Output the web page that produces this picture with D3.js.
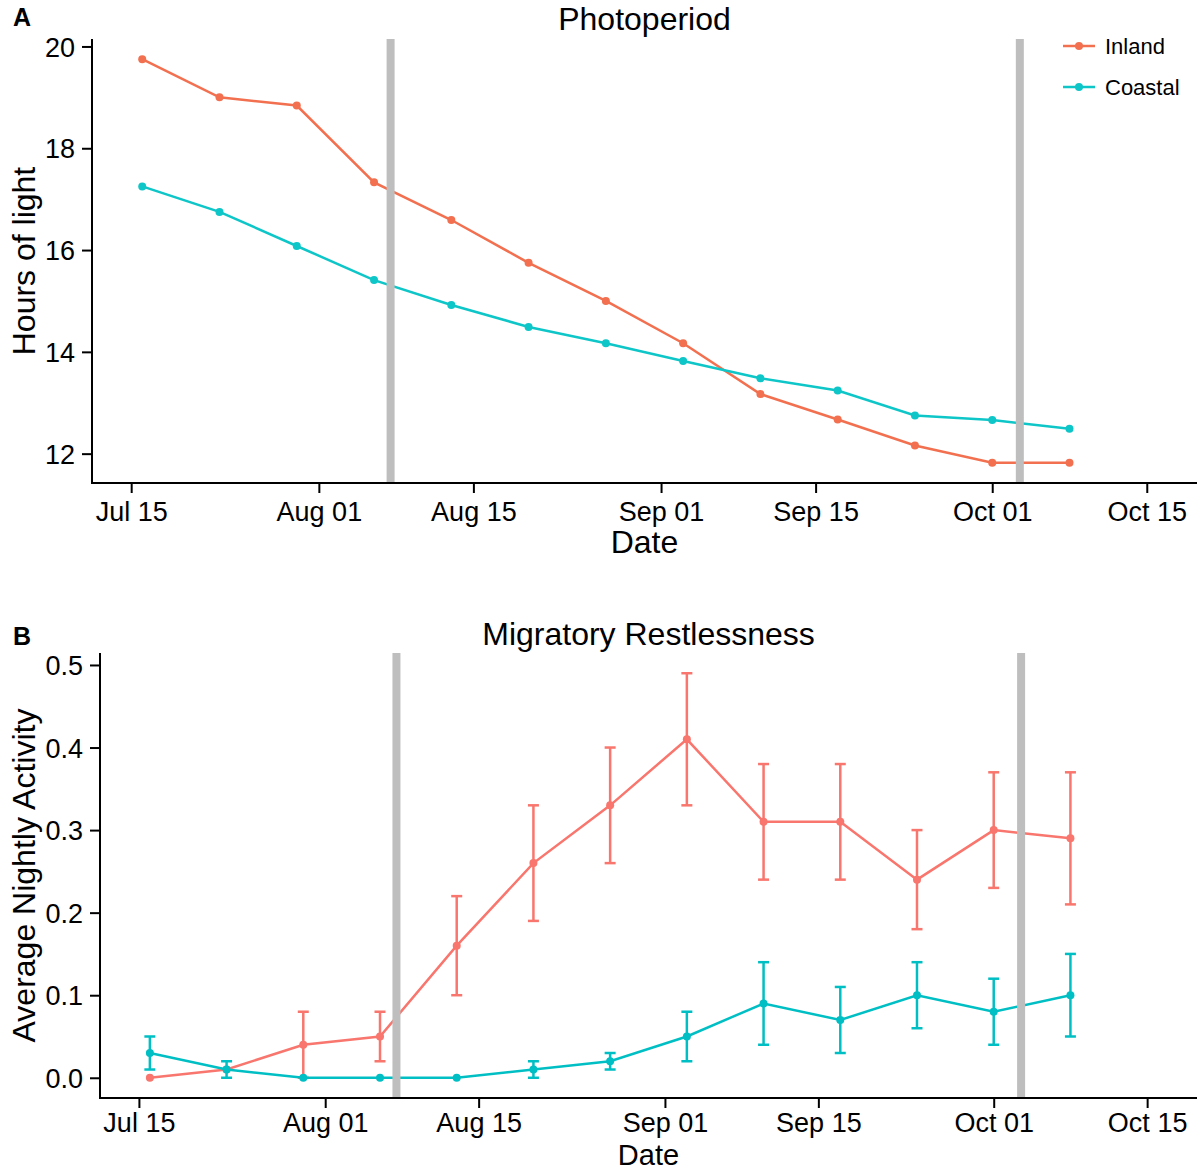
<!DOCTYPE html>
<html>
<head>
<meta charset="utf-8">
<script src="https://cdn.jsdelivr.net/npm/d3@7"></script>
<style>
  html, body { margin: 0; padding: 0; background: #fff; }
  svg { display: block; }
  text { font-family: "Liberation Sans", Arial, Helvetica, sans-serif; fill: #000; }
</style>
</head>
<body>
<svg id="chart" width="1199" height="1171"></svg>
<script>
// ---------- DATA ----------
const dates = ["2015-07-16","2015-07-23","2015-07-30","2015-08-06","2015-08-13","2015-08-20","2015-08-27",
               "2015-09-03","2015-09-10","2015-09-17","2015-09-24","2015-10-01","2015-10-08"];
const seriesNames = ["Inland", "Coastal"];

// Panel A: photoperiod (hours of light)
const inlandLight  = [19.75, 19.00, 18.84, 17.33, 16.59, 15.75, 15.00, 14.17, 13.17, 12.67, 12.16, 11.82, 11.82];
const coastalLight = [17.25, 16.75, 16.08, 15.41, 14.92, 14.49, 14.17, 13.82, 13.48, 13.24, 12.75, 12.66, 12.49];

// Panel B: average nightly activity with error bars
const inlandActivity  = [0.00, 0.01, 0.04, 0.05, 0.16, 0.26, 0.33, 0.41, 0.31, 0.31, 0.24, 0.30, 0.29];
const inlandLow       = [0.00, 0.01, 0.00, 0.02, 0.10, 0.19, 0.26, 0.33, 0.24, 0.24, 0.18, 0.23, 0.21];
const inlandHigh      = [0.00, 0.01, 0.08, 0.08, 0.22, 0.33, 0.40, 0.49, 0.38, 0.38, 0.30, 0.37, 0.37];
const coastalActivity = [0.03, 0.01, 0.00, 0.00, 0.00, 0.01, 0.02, 0.05, 0.09, 0.07, 0.10, 0.08, 0.10];
const coastalLow      = [0.01, 0.00, 0.00, 0.00, 0.00, 0.00, 0.01, 0.02, 0.04, 0.03, 0.06, 0.04, 0.05];
const coastalHigh     = [0.05, 0.02, 0.00, 0.00, 0.00, 0.02, 0.03, 0.08, 0.14, 0.11, 0.14, 0.12, 0.15];

// Reference (gray) vertical lines
const vlineDates = ["2015-08-07T12:00", "2015-10-03T12:00"];

// Axis ticks
const xTickDates  = ["2015-07-15","2015-08-01","2015-08-15","2015-09-01","2015-09-15","2015-10-01","2015-10-15"];
const xTickLabels = ["Jul 15","Aug 01","Aug 15","Sep 01","Sep 15","Oct 01","Oct 15"];
const xLimits     = ["2015-07-16","2015-10-15"];
const yTicksA = [12, 14, 16, 18, 20];
const yTickLabelsA = ["12", "14", "16", "18", "20"];
const yTicksB = [0.0, 0.1, 0.2, 0.3, 0.4, 0.5];
const yTickLabelsB = ["0.0", "0.1", "0.2", "0.3", "0.4", "0.5"];

// ---------- DRAW ----------
const parse = s => new Date(s.length > 10 ? s : s + "T00:00");
const svg = d3.select("#chart");

function expand(lo, hi, f) { const r = hi - lo; return [lo - r * f, hi + r * f]; }

const xl = xLimits.map(parse);
const xDom = expand(+xl[0], +xl[1], 0.05).map(v => new Date(v));

function panel(cfg) {
  const g = svg.append("g");
  const x = d3.scaleTime().domain(xDom).range([cfg.left, cfg.right]);
  const y = d3.scaleLinear().domain(cfg.yDom).range([cfg.bottom, cfg.top]);

  cfg.series.forEach(s => {
    const pts = dates.map((d, i) => ({ d: parse(d), v: s.values[i], lo: s.low ? s.low[i] : null, hi: s.high ? s.high[i] : null }));
    if (s.low) {
      const eb = g.append("g").attr("stroke", s.color).attr("stroke-width", 2.5).attr("fill", "none");
      pts.forEach(p => {
        if (p.hi - p.lo <= 0) return;
        const cx = x(p.d);
        eb.append("line").attr("x1", cx).attr("x2", cx).attr("y1", y(p.lo)).attr("y2", y(p.hi));
        eb.append("line").attr("x1", cx - 5.5).attr("x2", cx + 5.5).attr("y1", y(p.lo)).attr("y2", y(p.lo));
        eb.append("line").attr("x1", cx - 5.5).attr("x2", cx + 5.5).attr("y1", y(p.hi)).attr("y2", y(p.hi));
      });
    }
    g.append("path").datum(pts)
      .attr("fill", "none").attr("stroke", s.color).attr("stroke-width", 2.5)
      .attr("d", d3.line().x(p => x(p.d)).y(p => y(p.v)));
    g.selectAll(null).data(pts).enter().append("circle")
      .attr("cx", p => x(p.d)).attr("cy", p => y(p.v)).attr("r", 4).attr("fill", s.color);
  });

  vlineDates.forEach(d => {
    g.append("line").attr("x1", x(parse(d))).attr("x2", x(parse(d)))
      .attr("y1", cfg.top).attr("y2", cfg.bottom)
      .attr("stroke", "#bebebe").attr("stroke-width", 8);
  });

  const xAxis = d3.axisBottom(x).tickValues(xTickDates.map(parse))
    .tickFormat((d, i) => xTickLabels[i]).tickSize(10).tickSizeOuter(0).tickPadding(6);
  const gx = g.append("g").attr("transform", `translate(0,${cfg.bottom})`).call(xAxis);
  gx.select(".domain").attr("stroke", "#000").attr("stroke-width", 2)
    .attr("d", `M${cfg.left - 1},0H${cfg.right}`);
  gx.selectAll(".tick line").attr("stroke", "#000").attr("stroke-width", 2);
  gx.selectAll(".tick text").attr("font-size", 27).attr("font-family", "Liberation Sans, Arial, sans-serif")
    .attr("fill", "#000").attr("dy", null).attr("y", cfg.xLabelBaseline - cfg.bottom);

  const yAxis = d3.axisLeft(y).tickValues(cfg.yTicks)
    .tickFormat((d, i) => cfg.yTickLabels[i]).tickSize(10).tickSizeOuter(0).tickPadding(7);
  const gy = g.append("g").attr("transform", `translate(${cfg.left},0)`).call(yAxis);
  gy.select(".domain").attr("stroke", "#000").attr("stroke-width", 2)
    .attr("d", `M0,${cfg.top}V${cfg.bottom + 1}`);
  gy.selectAll(".tick line").attr("stroke", "#000").attr("stroke-width", 2);
  gy.selectAll(".tick text").attr("font-size", 27).attr("font-family", "Liberation Sans, Arial, sans-serif")
    .attr("fill", "#000").attr("dy", "0.36em");

  const cx = (cfg.left + cfg.right) / 2;
  g.append("text").attr("x", cx).attr("y", cfg.titleBaseline).attr("text-anchor", "middle")
    .attr("font-size", 32).text(cfg.title);
  g.append("text").attr("x", cx).attr("y", cfg.dateBaseline).attr("text-anchor", "middle")
    .attr("font-size", cfg.dateSize).text("Date");
  g.append("text").attr("transform", `translate(35,${(cfg.top + cfg.bottom) / 2}) rotate(-90)`)
    .attr("text-anchor", "middle").attr("font-size", 32).text(cfg.yTitle);
  g.append("text").attr("x", 13).attr("y", cfg.letterBaseline).attr("font-size", 25)
    .attr("font-weight", "bold").text(cfg.letter);
  return { g, x, y };
}

// Panel A
const aLo = d3.min(inlandLight.concat(coastalLight)), aHi = d3.max(inlandLight.concat(coastalLight));
panel({
  left: 92, right: 1197, top: 39, bottom: 483,
  yDom: expand(aLo, aHi, 0.05), yTicks: yTicksA, yTickLabels: yTickLabelsA,
  xLabelBaseline: 521, dateBaseline: 553, dateSize: 32, titleBaseline: 30, letterBaseline: 26,
  title: "Photoperiod", yTitle: "Hours of light", letter: "A",
  series: [
    { name: seriesNames[0], values: inlandLight, color: "#F2704F" },
    { name: seriesNames[1], values: coastalLight, color: "#0EC6C8" }
  ]
});

// Legend (panel A)
const legColors = ["#F2704F", "#0EC6C8"];
seriesNames.forEach((n, i) => {
  const ly = 46 + i * 41;
  const lg = svg.append("g");
  lg.append("line").attr("x1", 1063).attr("x2", 1095).attr("y1", ly).attr("y2", ly)
    .attr("stroke", legColors[i]).attr("stroke-width", 2.5);
  lg.append("circle").attr("cx", 1079).attr("cy", ly).attr("r", 4).attr("fill", legColors[i]);
  lg.append("text").attr("x", 1105).attr("y", ly + 8).attr("font-size", 22).text(n);
});

// Panel B
const bLo = d3.min(inlandLow.concat(coastalLow, inlandActivity, coastalActivity));
const bHi = d3.max(inlandHigh.concat(coastalHigh, inlandActivity, coastalActivity));
panel({
  left: 100, right: 1197, top: 653, bottom: 1098,
  yDom: expand(bLo, bHi, 0.05), yTicks: yTicksB, yTickLabels: yTickLabelsB,
  xLabelBaseline: 1132, dateBaseline: 1165, dateSize: 29, titleBaseline: 645, letterBaseline: 645,
  title: "Migratory Restlessness", yTitle: "Average Nightly Activity", letter: "B",
  series: [
    { name: seriesNames[0], values: inlandActivity, low: inlandLow, high: inlandHigh, color: "#F8766D" },
    { name: seriesNames[1], values: coastalActivity, low: coastalLow, high: coastalHigh, color: "#00BFC4" }
  ]
});
</script>
</body>
</html>
